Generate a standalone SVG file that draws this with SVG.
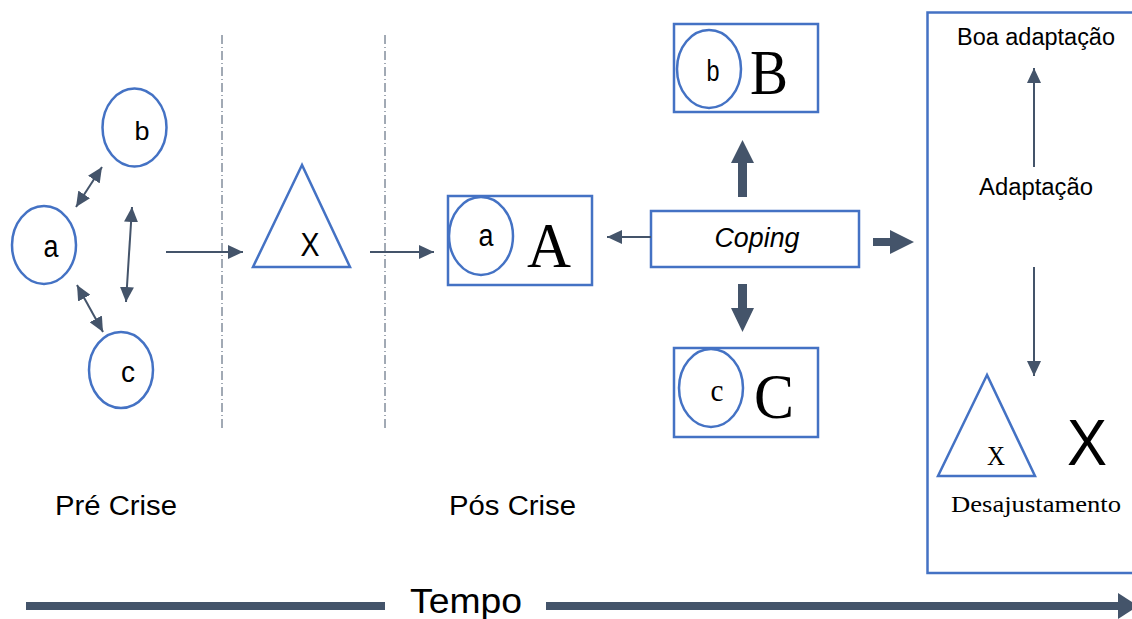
<svg xmlns="http://www.w3.org/2000/svg" width="1132" height="619" viewBox="0 0 1132 619">
<style>
.blue{fill:none;stroke:#4472C4;stroke-width:2.5}
.ln{stroke:#44546A;stroke-width:2;fill:none}
.dd{stroke:#44546A;stroke-width:1;stroke-dasharray:9 3 1 3;fill:none}
.blk{fill:#44546A}
.sans{font-family:"Liberation Sans",Arial,sans-serif;fill:#000}
.serif{font-family:"Liberation Serif","Times New Roman",serif;fill:#000}
</style>
<defs>
<marker id="ah" markerUnits="userSpaceOnUse" markerWidth="15" markerHeight="14" refX="15" refY="7" orient="auto-start-reverse" viewBox="0 0 15 14">
<path d="M0,0 L15,7 L0,14 z" fill="#44546A"/>
</marker>
</defs>
<rect width="1132" height="619" fill="#fff"/>

<g id="separators">
<line class="dd" x1="222" y1="35" x2="222" y2="430"/>
<line class="dd" x1="385" y1="35" x2="385" y2="430"/>
</g>

<g id="node-a">
<ellipse class="blue" cx="44" cy="245" rx="32" ry="39"/>
<text class="sans" x="51" y="257" font-size="31" text-anchor="middle" textLength="15" lengthAdjust="spacingAndGlyphs">a</text>
</g>
<g id="node-b">
<ellipse class="blue" cx="134.5" cy="127.5" rx="32" ry="39"/>
<text class="sans" x="142" y="140" font-size="26" text-anchor="middle" textLength="15" lengthAdjust="spacingAndGlyphs">b</text>
</g>
<g id="node-c">
<ellipse class="blue" cx="121" cy="370" rx="32" ry="38"/>
<text class="sans" x="128" y="382" font-size="29" text-anchor="middle" textLength="14" lengthAdjust="spacingAndGlyphs">c</text>
</g>

<g id="node-x">
<polygon class="blue" points="302,165 253,267 350,267"/>
<text class="sans" x="310" y="256" font-size="33" text-anchor="middle" textLength="19" lengthAdjust="spacingAndGlyphs">X</text>
</g>

<g id="node-A">
<rect class="blue" x="448" y="196" width="144" height="89"/>
<ellipse class="blue" cx="481" cy="236" rx="32" ry="39"/>
<text class="sans" x="486" y="246" font-size="31" text-anchor="middle" textLength="15" lengthAdjust="spacingAndGlyphs">a</text>
<text class="serif" x="549" y="267" font-size="64" text-anchor="middle" textLength="44" lengthAdjust="spacingAndGlyphs">A</text>
</g>

<g id="node-B">
<rect class="blue" x="674" y="24" width="144" height="88"/>
<ellipse class="blue" cx="709" cy="69" rx="32" ry="39"/>
<text class="sans" x="713" y="81" font-size="30" text-anchor="middle" textLength="13" lengthAdjust="spacingAndGlyphs">b</text>
<text class="serif" x="769" y="94" font-size="63" text-anchor="middle" textLength="38" lengthAdjust="spacingAndGlyphs">B</text>
</g>

<g id="node-coping">
<rect class="blue" x="651" y="211" width="208" height="56"/>
<text class="sans" x="757" y="247" font-size="27" font-style="italic" text-anchor="middle" textLength="85" lengthAdjust="spacingAndGlyphs">Coping</text>
</g>

<g id="node-C">
<rect class="blue" x="674" y="348" width="144" height="89"/>
<ellipse class="blue" cx="711" cy="388" rx="32" ry="39"/>
<text class="serif" x="717" y="401" font-size="31" text-anchor="middle" textLength="13" lengthAdjust="spacingAndGlyphs">c</text>
<text class="serif" x="774" y="418" font-size="64" text-anchor="middle" textLength="40" lengthAdjust="spacingAndGlyphs">C</text>
</g>

<g id="node-outcome">
<rect class="blue" x="927.5" y="12.5" width="215" height="560.5"/>
<text class="sans" x="1036" y="45" font-size="23" text-anchor="middle" textLength="158" lengthAdjust="spacingAndGlyphs">Boa adaptação</text>
<text class="sans" x="1036" y="195" font-size="23" text-anchor="middle" textLength="114" lengthAdjust="spacingAndGlyphs">Adaptação</text>
<polygon class="blue" points="987,375 938,476 1035,476"/>
<text class="serif" x="996" y="465" font-size="27" text-anchor="middle" textLength="18" lengthAdjust="spacingAndGlyphs">X</text>
<text class="sans" x="1087" y="465" font-size="64" text-anchor="middle" textLength="40" lengthAdjust="spacingAndGlyphs">X</text>
<text class="serif" x="1036" y="512" font-size="24" text-anchor="middle" textLength="170" lengthAdjust="spacingAndGlyphs">Desajustamento</text>
</g>

<g id="labels">
<text class="sans" x="55" y="515" font-size="27" textLength="122" lengthAdjust="spacingAndGlyphs">Pré Crise</text>
<text class="sans" x="449" y="515" font-size="27" textLength="127" lengthAdjust="spacingAndGlyphs">Pós Crise</text>
<text class="sans" x="466" y="613" font-size="35" text-anchor="middle" textLength="112" lengthAdjust="spacingAndGlyphs">Tempo</text>
</g>

<g id="connectors">
<line class="ln" x1="76" y1="207" x2="102" y2="167" marker-start="url(#ah)" marker-end="url(#ah)"/>
<line class="ln" x1="132" y1="207" x2="126" y2="302" marker-start="url(#ah)" marker-end="url(#ah)"/>
<line class="ln" x1="77" y1="285" x2="103" y2="332" marker-start="url(#ah)" marker-end="url(#ah)"/>
<line class="ln" x1="166" y1="252" x2="243" y2="252" marker-end="url(#ah)"/>
<line class="ln" x1="370" y1="252" x2="434" y2="252" marker-end="url(#ah)"/>
<line class="ln" x1="651" y1="237" x2="607" y2="237" marker-end="url(#ah)"/>
<polygon class="blk" points="738,197 738,163 731,163 742.5,140 754,163 747,163 747,197"/>
<polygon class="blk" points="738,284 738,308 731,308 742.5,332 754,308 747,308 747,284"/>
<polygon class="blk" points="873,238 890,238 890,230 914,242 890,254 890,246 873,246"/>
<line class="ln" x1="1034" y1="167" x2="1034" y2="68" marker-end="url(#ah)"/>
<line class="ln" x1="1034" y1="267" x2="1034" y2="376" marker-end="url(#ah)"/>
<rect class="blk" x="26" y="602" width="359" height="8"/>
<rect class="blk" x="546" y="602" width="574" height="8"/>
<polygon class="blk" points="1118,593 1138,606 1118,619"/>
</g>
</svg>
